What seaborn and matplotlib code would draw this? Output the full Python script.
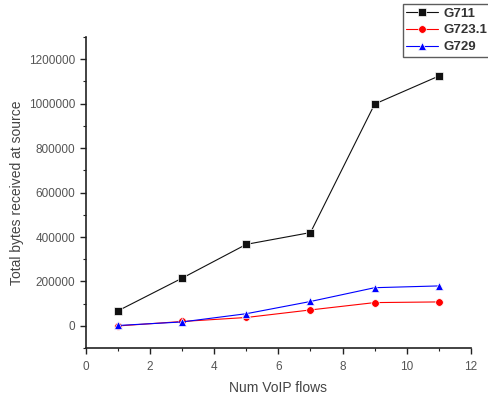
import matplotlib
matplotlib.use("Agg")
import matplotlib.pyplot as plt
import seaborn as sns
import pandas as pd
from matplotlib.ticker import MultipleLocator

flows = [1, 3, 5, 7, 9, 11]
g711 = [68000, 215000, 367000, 420000, 998000, 1124000]
g7231 = [0, 20000, 38000, 72000, 105000, 108000]
g729 = [2000, 18000, 55000, 110000, 172000, 180000]

series = ["G711", "G723.1", "G729"]
df = pd.DataFrame({
    "flows": flows * 3,
    "bytes": g711 + g7231 + g729,
    "codec": [s for s in series for _ in flows],
})

sns.set_style("ticks")
plt.rcParams["font.family"] = ["Liberation Sans", "DejaVu Sans"]

fig = plt.figure(figsize=(4.88, 3.97), dpi=100)
ax = fig.add_axes([0.176, 0.123, 0.789, 0.784])

palette = {"G711": "#111111", "G723.1": "red", "G729": "blue"}
markers = {"G711": "s", "G723.1": "o", "G729": "^"}
sns.lineplot(data=df, x="flows", y="bytes", hue="codec", style="codec",
             palette=palette, markers=markers, dashes=False, ax=ax,
             linewidth=0.8, markersize=5.5, markeredgewidth=0.5)

ax.set_xlim(0, 12)
ax.set_ylim(-100000, 1300000)
ax.xaxis.set_major_locator(MultipleLocator(2))
ax.xaxis.set_minor_locator(MultipleLocator(1))
ax.yaxis.set_minor_locator(MultipleLocator(100000))
ax.set_yticks([0, 200000, 400000, 600000, 800000, 1000000, 1200000])
ax.set_yticklabels(["0", "200000", "400000", "600000", "800000", "1000000", "1200000"])
ax.tick_params(axis="both", which="major", direction="out", length=4, width=1,
               labelsize=8.5, colors="#222222", labelcolor="#555555")
ax.tick_params(axis="x", which="major", pad=5)
ax.tick_params(axis="both", which="minor", direction="out", length=2.5, width=0.8, colors="#222222")
sns.despine(ax=ax)
for s in ["left", "bottom"]:
    ax.spines[s].set_linewidth(1.2)
    ax.spines[s].set_color("#222222")

ax.set_xlabel("Num VoIP flows", fontsize=10, color="#444444", labelpad=6)
ax.set_ylabel("Total bytes received at source", fontsize=10, color="#444444", labelpad=4)

handles, labels = ax.get_legend_handles_labels()
if ax.get_legend():
    ax.get_legend().remove()
leg = fig.legend(handles, labels, loc="upper left", bbox_to_anchor=(0.826, 0.99),
                 frameon=True, fancybox=False, edgecolor="#333333", fontsize=9.5,
                 handlelength=2.4, handletextpad=0.4, borderpad=0.25,
                 labelspacing=0.35, borderaxespad=0)
leg.get_frame().set_linewidth(1.0)
for t in leg.get_texts():
    t.set_fontweight("bold")
    t.set_color("#333333")

fig.savefig("out.png", dpi=100)
